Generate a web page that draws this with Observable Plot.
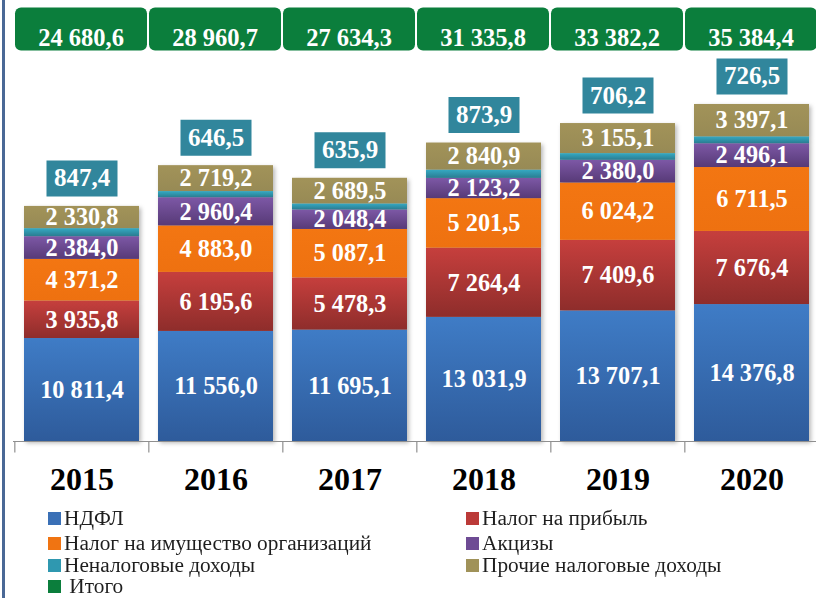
<!DOCTYPE html>
<html>
<head>
<meta charset="utf-8">
<script src="https://cdn.jsdelivr.net/npm/d3@7"></script>
<script src="https://cdn.jsdelivr.net/npm/@observablehq/plot@0.6"></script>
<style>
  html, body { margin: 0; padding: 0; background: #fff; }
  #wrap { position: relative; width: 816px; height: 598px; overflow: hidden; font-family: "Liberation Serif", "Times New Roman", serif; }
  #frame { position: absolute; left: 2px; top: 0; width: 3px; height: 598px; background: #4a6896; }
  .lg { position: absolute; font-size: 20px; color: #1e1e1e; line-height: 18px; white-space: pre; transform: scaleX(1.065); transform-origin: 0 50%; }
  .sw { position: absolute; width: 13px; height: 13px; }
</style>
</head>
<body>
<div id="wrap">
  <div id="chart"></div>
  <div id="frame"></div>
  <div id="legend"></div>
</div>
<script>
const years = ["2015", "2016", "2017", "2018", "2019", "2020"];
const seriesNames = ["НДФЛ", "Налог на прибыль", "Налог на имущество организаций", "Акцизы", "Неналоговые доходы", "Прочие налоговые доходы"];
const ndfl     = [10811.4, 11556.0, 11695.1, 13031.9, 13707.1, 14376.8];
const profit   = [3935.8, 6195.6, 5478.3, 7264.4, 7409.6, 7676.4];
const property = [4371.2, 4883.0, 5087.1, 5201.5, 6024.2, 6711.5];
const excise   = [2384.0, 2960.4, 2048.4, 2123.2, 2380.0, 2496.1];
const nontax   = [847.4, 646.5, 635.9, 873.9, 706.2, 726.5];
const other    = [2330.8, 2719.2, 2689.5, 2840.9, 3155.1, 3397.1];
const totals   = [24680.6, 28960.7, 27634.3, 31335.8, 33382.2, 35384.4];
const totalName = "Итого";

const seriesValues = [ndfl, profit, property, excise, nontax, other];
const gradStops = [
  ["#3f7cc6", "#2e5b9b"],
  ["#c63f3d", "#8e2d2b"],
  ["#f37612", "#ee7110"],
  ["#7d58a6", "#573a77"],
  ["#35aac4", "#2a7c90"],
  ["#a29359", "#978a55"]
];
const legendColors = ["#3a70b6", "#bb3a38", "#f07412", "#6e4b94", "#2f98b0", "#a09259"];
const totalColor = "#0b7e3c";
const nontaxBoxColor = "#31869c";

const fmt = d3.formatLocale({decimal: ",", thousands: " ", grouping: [3], currency: ["", ""]}).format(",.1f");

const rows = years.flatMap((y, i) => seriesNames.map((s, j) => ({year: y, series: s, value: seriesValues[j][i]})));
const yearRows = years.map((y, i) => ({year: y, total: totals[i], nontax: nontax[i]}));

function roundRect(w, h, r) {
  return {draw(ctx) {
    const x0 = -w / 2, y0 = -h / 2, x1 = w / 2, y1 = h / 2;
    if (r <= 0) { ctx.rect(x0, y0, w, h); return; }
    ctx.moveTo(x0 + r, y0);
    ctx.lineTo(x1 - r, y0); ctx.arcTo(x1, y0, x1, y0 + r, r);
    ctx.lineTo(x1, y1 - r); ctx.arcTo(x1, y1, x1 - r, y1, r);
    ctx.lineTo(x0 + r, y1); ctx.arcTo(x0, y1, x0, y1 - r, r);
    ctx.lineTo(x0, y0 + r); ctx.arcTo(x0, y0, x0 + r, y0, r);
    ctx.closePath();
  }};
}
const tickSym = {draw(ctx) { ctx.moveTo(0, 0); ctx.lineTo(0, 11); }};

const step = (819 - 13) / 6;
const nonTaxName = seriesNames[4];

const chart = Plot.plot({
  width: 816,
  height: 505,
  marginTop: 0,
  marginBottom: 64,
  marginLeft: 13,
  marginRight: 0,
  style: {fontFamily: "'Liberation Serif', 'Times New Roman', serif", background: "transparent", overflow: "visible"},
  x: {type: "band", domain: years, range: [13, 819], paddingInner: 0.144, paddingOuter: 0.072, axis: null},
  y: {domain: [0, 46300], axis: null},
  color: {domain: seriesNames, range: seriesNames.map((_, j) => `url(#grad${j})`)},
  marks: [
    Plot.barY(rows, {x: "year", y: "value", fill: "series"}),
    Plot.ruleY([0], {stroke: "#8f8f8f", strokeWidth: 1.2}),
    Plot.dot(years, {x: d => d, y: () => 0, dx: -step / 2, symbol: tickSym, stroke: "#8f8f8f", fill: "none", strokeWidth: 1.2}),
    Plot.text(rows, Plot.stackY({
      x: "year", y: "value", z: "series",
      text: d => d.series === nonTaxName ? "" : fmt(d.value),
      fill: "white", fontSize: 24.3, fontWeight: "bold"
    })),
    Plot.dot(yearRows, {x: "year", y: "total", dy: -28, symbol: roundRect(71, 36, 0), fill: nontaxBoxColor}),
    Plot.text(yearRows, {x: "year", y: "total", dy: -28, text: d => fmt(d.nontax), fill: "white", fontSize: 25, fontWeight: "bold"}),
    Plot.dot(yearRows, {x: "year", frameAnchor: "top", dy: 28.5, dx: -1, symbol: roundRect(132, 43, 6), fill: totalColor}),
    Plot.text(yearRows, {x: "year", frameAnchor: "top", dy: 28.5, dx: -1, text: d => fmt(d.total), fill: "white", fontSize: 24.5, fontWeight: "bold"}),
    Plot.text(years, {x: d => d, y: () => 0, dy: 38, text: d => d, fill: "black", fontSize: 32, fontWeight: "bold"})
  ]
});

// gradient definitions for the bar fills
const svg = d3.select(chart);
const defs = svg.insert("defs", ":first-child");
gradStops.forEach((c, j) => {
  const g = defs.append("linearGradient").attr("id", `grad${j}`).attr("x1", 0).attr("y1", 0).attr("x2", 0).attr("y2", 1);
  g.append("stop").attr("offset", "0%").attr("stop-color", c[0]);
  g.append("stop").attr("offset", "100%").attr("stop-color", c[1]);
});
svg.select("g[aria-label='bar']").style("filter", "drop-shadow(2px 2px 2px rgba(0,0,0,0.28))");

document.getElementById("chart").appendChild(chart);

// legend
const legend = document.getElementById("legend");
const legendItems = [
  {label: seriesNames[0], color: legendColors[0], col: 0, row: 0},
  {label: seriesNames[2], color: legendColors[2], col: 0, row: 1},
  {label: seriesNames[4], color: legendColors[4], col: 0, row: 2},
  {label: " " + totalName, color: totalColor, col: 0, row: 3},
  {label: seriesNames[1], color: legendColors[1], col: 1, row: 0},
  {label: seriesNames[3], color: legendColors[3], col: 1, row: 1},
  {label: seriesNames[5], color: legendColors[5], col: 1, row: 2}
];
const colX = [48, 466];
const rowY = [518, 543, 565, 586];
legendItems.forEach(it => {
  const sw = document.createElement("div");
  sw.className = "sw";
  sw.style.left = colX[it.col] + "px";
  sw.style.top = (rowY[it.row] - 6.5) + "px";
  sw.style.background = it.color;
  legend.appendChild(sw);
  const t = document.createElement("div");
  t.className = "lg";
  t.style.left = (colX[it.col] + 16) + "px";
  t.style.top = (rowY[it.row] - 9) + "px";
  t.textContent = it.label;
  legend.appendChild(t);
});
</script>
</body>
</html>
